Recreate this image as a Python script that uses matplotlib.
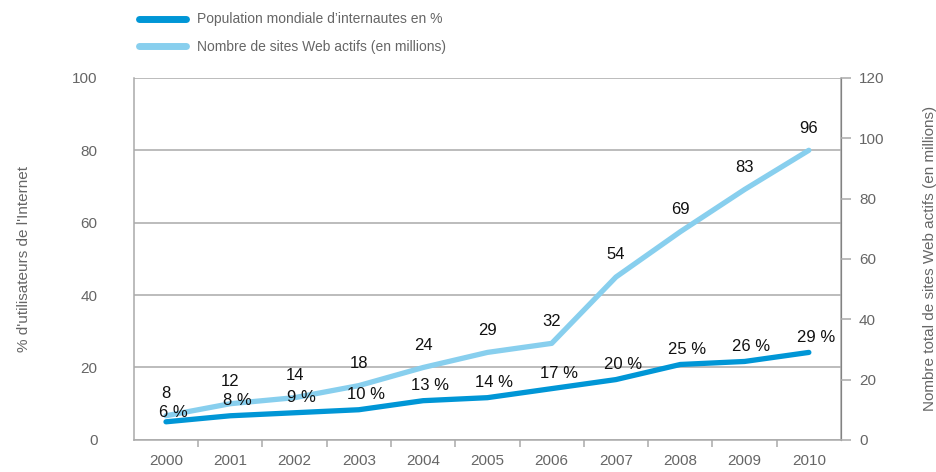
"""Internautes et sites Web actifs, 2000-2010 (two y-axes, same plot frame)."""
import matplotlib

matplotlib.use("Agg")
import matplotlib.pyplot as plt  # noqa: E402
from matplotlib.lines import Line2D  # noqa: E402

years = ["2000", "2001", "2002", "2003", "2004", "2005",
         "2006", "2007", "2008", "2009", "2010"]
internautes_pct = [6, 8, 9, 10, 13, 14, 17, 20, 25, 26, 29]
sites_millions = [8, 12, 14, 18, 24, 29, 32, 54, 69, 83, 96]

DARK = "#0096d6"
LIGHT = "#88cfee"
GREY = "#aaaaaa"
TXT = "#666666"

plt.rcParams["font.family"] = ["Liberation Sans Narrow", "Liberation Sans", "DejaVu Sans"]

fig = plt.figure(figsize=(9.36, 4.72), dpi=100)
ax = fig.add_axes([0.143, 0.068, 0.7555, 0.767])
ax2 = ax.twinx()

x = list(range(len(years)))

# left axis: 0-100 with gridlines
ax.set_ylim(0, 100)
ax.set_yticks(range(0, 101, 20))
ax.grid(axis="y", color=GREY, linewidth=1.1)
ax.set_axisbelow(True)
ax.tick_params(axis="y", length=0, pad=26, labelsize=11, labelcolor=TXT)
ax.set_ylabel("% d'utilisateurs de l'Internet", fontsize=11, color=TXT, labelpad=30)

# x axis: category labels, tick marks between categories
ax.set_xlim(-0.5, len(years) - 0.5)
ax.set_xticks(x)
ax.set_xticklabels(years)
ax.set_xticks([i + 0.5 for i in x[:-1]], minor=True)
ax.tick_params(axis="x", which="major", length=0, pad=10, labelsize=11, labelcolor=TXT)
ax.tick_params(axis="x", which="minor", length=5, width=1.1, color=GREY, direction="out")

ax.spines["top"].set_visible(False)
ax2.spines["top"].set_visible(False)
for sp in ("left", "bottom"):
    ax.spines[sp].set_color(GREY)
    ax.spines[sp].set_linewidth(1.1)
ax2.spines["left"].set_visible(False)
ax2.spines["bottom"].set_visible(False)
ax2.spines["right"].set_color(GREY)
ax2.spines["right"].set_linewidth(1.1)

# right axis: 0-120, both series drawn against it
ax2.set_ylim(0, 120)
ax2.set_yticks(range(0, 121, 20))
ax2.tick_params(axis="y", length=7, width=1.1, color=GREY, pad=6, labelsize=11, labelcolor=TXT)
ax2.set_ylabel("Nombre total de sites Web actifs (en millions)", fontsize=11, color=TXT,
               labelpad=28)

ax2.plot(x, internautes_pct, color=DARK, linewidth=3.8, solid_capstyle="round",
         solid_joinstyle="round", zorder=3)
ax2.plot(x, sites_millions, color=LIGHT, linewidth=3.8, solid_capstyle="round",
         solid_joinstyle="round", zorder=2)

for xi, v in zip(x, sites_millions):
    ax2.annotate(str(v), (xi, v), textcoords="offset points", xytext=(0, 16),
                 ha="center", va="center", fontsize=12, color="#111111")
for xi, v in zip(x, internautes_pct):
    dy = 7 if xi == 0 else 11
    ax2.annotate(f"{v} %", (xi, v), textcoords="offset points", xytext=(5, dy),
                 ha="center", va="center", fontsize=12, color="#111111")

handles = [
    Line2D([], [], color=DARK, linewidth=5, solid_capstyle="round"),
    Line2D([], [], color=LIGHT, linewidth=5, solid_capstyle="round"),
]
fig.legend(handles, ["Population mondiale d\u2019internautes en %",
                     "Nombre de sites Web actifs (en millions)"],
           loc="upper left", bbox_to_anchor=(0.135, 1.0), frameon=False,
           fontsize=10, labelcolor=TXT, handlelength=3.4, handletextpad=0.8,
           labelspacing=0.95)

fig.savefig("out.png", dpi=100)
